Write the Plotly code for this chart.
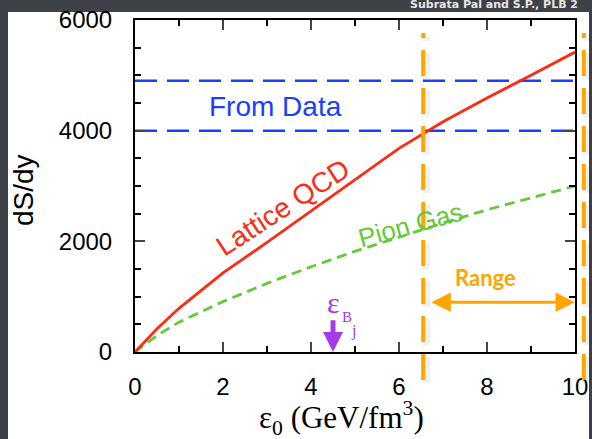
import plotly.graph_objects as go

# ---- data ----
eps_lattice = [0, 0.5, 1, 2, 3, 4, 5, 6, 7, 8, 9, 10]
dsdy_lattice = [0, 420, 790, 1430, 1980, 2550, 3120, 3680, 4160, 4590, 5000, 5420]

eps_pion = [0, 0.5, 1, 2, 3, 4, 5, 6, 7, 8, 9, 10]
dsdy_pion = [0, 300, 540, 910, 1240, 1540, 1820, 2080, 2330, 2570, 2790, 3000]

data_levels = [4000, 4900]          # "From Data" band
range_lo, range_hi = 6.55, 10.2     # Range markers
eps_bj = 4.5                        # Bjorken estimate
x_range = [0, 10]
y_range = [0, 6000]
x_ticks = [0, 2, 4, 6, 8, 10]
y_ticks = [0, 2000, 4000, 6000]

# ---- layout helpers (pixel -> paper) ----
W, H = 592, 439
L, R, T, B = 135, 17, 20, 87
PW, PH = W - L - R, H - T - B
def px(x): return (x - L) / PW
def py(y): return (H - B - y) / PH
def dom(v): return (v - x_range[0]) / (x_range[1] - x_range[0])

RED = "#ff2a14"
GREEN = "#66c93a"
BLUE = "#1a3dff"
ORANGE = "#ffa500"
PURPLE = "#a33be6"

fig = go.Figure()
for lvl in data_levels:
    fig.add_trace(go.Scatter(x=x_range, y=[lvl, lvl], mode="lines",
                             line=dict(color=BLUE, width=2.5, dash="22px,10px"),
                             showlegend=False, hoverinfo="skip"))
fig.add_trace(go.Scatter(x=eps_pion, y=dsdy_pion, mode="lines",
                         line=dict(color=GREEN, width=2.8, dash="10px,6px"),
                         showlegend=False))
fig.add_trace(go.Scatter(x=eps_lattice, y=dsdy_lattice, mode="lines",
                         line=dict(color=RED, width=2.8),
                         showlegend=False))

shapes = [
    dict(type="rect", xref="paper", yref="paper", x0=px(8), x1=px(589),
         y0=py(445), y1=py(12), fillcolor="white", line=dict(width=0), layer="below"),
]
for v in (range_lo, range_hi):
    shapes.append(dict(type="line", xref="x domain", yref="paper",
                       x0=dom(v) + 3 / PW, x1=dom(v) + 3 / PW, y0=py(383), y1=py(36),
                       line=dict(color="rgba(0,0,0,0.06)", width=8, dash="26px,12px")))
    shapes.append(dict(type="line", xref="x domain", yref="paper",
                       x0=dom(v), x1=dom(v), y0=py(380), y1=py(33),
                       line=dict(color=ORANGE, width=4, dash="26px,12px")))

def label(text, x, y, size, color, family="Liberation Sans, Arial", angle=0, **kw):
    d = dict(text=text, x=px(x), y=py(y), xref="paper", yref="paper",
             xanchor="center", yanchor="middle", showarrow=False, textangle=angle,
             font=dict(family=family, size=size, color=color))
    d.update(kw)
    return d

SERIF = "Liberation Serif, Times New Roman"
annotations = [
    label("From Data", 275, 106, 28, BLUE),
    label("Lattice QCD", 283, 208, 28, RED, angle=-33),
    label("Pion Gas", 410, 225, 26, GREEN, angle=-15),
    label("<b>Range</b>", 485, 277, 22, ORANGE, family="Lato, Liberation Sans"),
    # range double arrow
    dict(text="", x=x_range[1], y=900, ax=range_lo + 0.15, ay=900, xref="x", yref="y",
         axref="x", ayref="y", showarrow=True, arrowhead=2, startarrowhead=2,
         arrowside="end+start", arrowsize=1.3, startarrowsize=1.3, arrowwidth=3,
         arrowcolor=ORANGE),
    # Bjorken arrow
    dict(text="", x=eps_bj, y=0, ax=eps_bj, ay=600, xref="x", yref="y",
         axref="x", ayref="y", showarrow=True, arrowhead=2, arrowsize=0.8,
         arrowwidth=5, arrowcolor=PURPLE),
    label("ε", 333.5, 302, 30, PURPLE, family=SERIF),
    label("B", 346.5, 317, 15, PURPLE, family=SERIF),
    label("j", 353, 331, 16, PURPLE, family=SERIF),
    # axis titles
    label("dS/dy", 24, 190, 28, "black", angle=-90),
    label("ε<sub>0</sub> (GeV/fm<sup>3</sup>)", 341, 418, 31, "black", family=SERIF),
    dict(text="<b>Subrata Pal and S.P., PLB 2</b>", x=px(408), y=py(4), xref="paper",
         yref="paper", xanchor="left", yanchor="middle", showarrow=False,
         font=dict(family="DejaVu Sans", size=11, color="#e6e6e6")),
]

fig.update_layout(
    width=W, height=H, margin=dict(l=L, r=R, t=T, b=B, pad=0, autoexpand=False),
    paper_bgcolor="#3e4148", plot_bgcolor="white",
    shapes=shapes, annotations=annotations, showlegend=False,
)
common = dict(showline=True, linecolor="black", linewidth=2, mirror="allticks",
              ticks="inside", ticklen=10, tickwidth=2, showgrid=False, zeroline=False,
              automargin=False,
              tickfont=dict(family="Liberation Sans, Arial", size=24, color="black"))
fig.update_xaxes(range=x_range, tickvals=x_ticks, ticklabelstandoff=12,
                 minor=dict(dtick=1, tick0=0, ticks="inside", ticklen=6, tickwidth=2,
                            tickcolor="black"), **common)
fig.update_yaxes(range=y_range, tickvals=y_ticks, ticklabelstandoff=16,
                 minor=dict(dtick=500, tick0=0, ticks="inside", ticklen=6, tickwidth=2,
                            tickcolor="black"), **common)

fig.write_html("out.html")
